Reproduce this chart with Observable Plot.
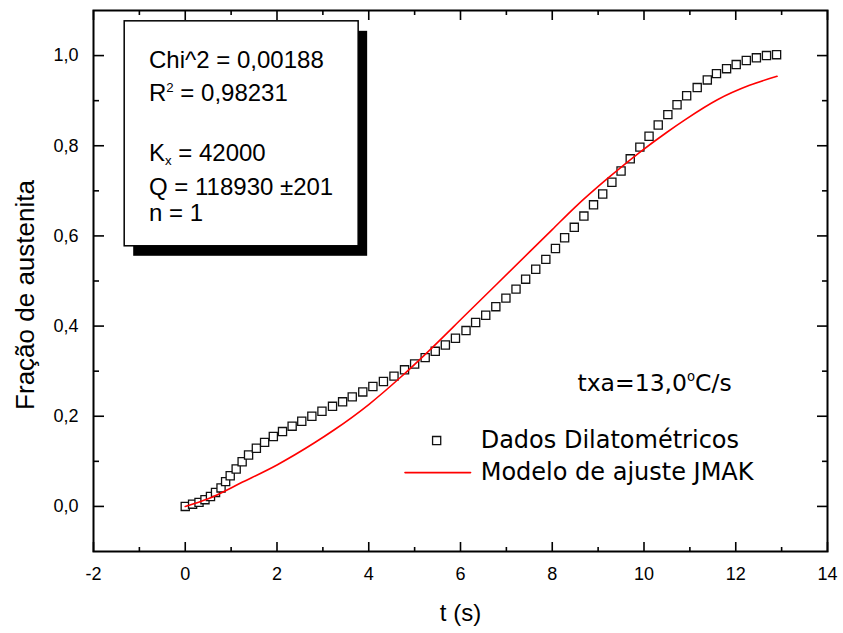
<!DOCTYPE html>
<html><head><meta charset="utf-8">
<script src="https://cdn.jsdelivr.net/npm/d3@7"></script>
<script src="https://cdn.jsdelivr.net/npm/@observablehq/plot@0.6"></script>
<style>
body{margin:0;background:#fff}
#chart{width:843px;height:633px}
</style>
</head><body><div id="chart"></div>
<script>
// Dilatometric data (t in s, austenite fraction)
const tData = [0.00,0.16,0.30,0.43,0.55,0.66,0.78,0.88,0.98,1.11,1.24,1.38,1.55,1.73,1.92,2.12,2.33,2.54,2.76,2.98,3.21,3.43,3.64,3.87,4.09,4.32,4.55,4.78,5.00,5.23,5.45,5.67,5.89,6.12,6.33,6.55,6.77,6.99,7.21,7.42,7.64,7.86,8.07,8.27,8.48,8.69,8.90,9.10,9.30,9.50,9.70,9.91,10.11,10.31,10.52,10.72,10.93,11.16,11.38,11.58,11.80,12.01,12.23,12.45,12.67,12.89];
const fracData = [0.000,0.005,0.009,0.015,0.022,0.031,0.041,0.055,0.068,0.083,0.099,0.114,0.129,0.142,0.155,0.166,0.178,0.189,0.200,0.211,0.222,0.232,0.243,0.254,0.266,0.277,0.289,0.303,0.316,0.330,0.344,0.358,0.373,0.390,0.408,0.424,0.443,0.462,0.482,0.504,0.526,0.548,0.572,0.596,0.619,0.644,0.669,0.693,0.719,0.744,0.771,0.797,0.821,0.846,0.869,0.891,0.911,0.929,0.946,0.960,0.971,0.980,0.989,0.995,1.000,1.002];
// JMAK fit curve
const tModel = [0,0.5,1.25,2.0,2.8,3.25,4.0,4.7,5.3,6.1,6.8,7.5,8.0,8.5,9.2,9.9,10.5,10.9,11.6,12.3,12.9];
const fracModel = [0,0.017,0.054,0.092,0.140,0.170,0.226,0.287,0.344,0.424,0.494,0.564,0.614,0.664,0.727,0.785,0.830,0.858,0.902,0.934,0.954];
// Axis ticks
const xTicks = [-2,0,2,4,6,8,10,12,14];
const xMinor = [-1,1,3,5,7,9,11,13];
const yTicks = [0,0.2,0.4,0.6,0.8,1.0];
const yMinor = [0.1,0.3,0.5,0.7,0.9];
// Texts
const xTitle = "t (s)";
const yTitle = "Fração de austenita";
const fitLines = ["Chi^2 = 0,00188", "R^{2} = 0,98231", "K_{x} = 42000", "Q = 118930 ±201", "n = 1"];
const rateLabel = "txa=13,0^{o}C/s";
const seriesNames = ["Dados Dilatométricos", "Modelo de ajuste JMAK"];

const pts = tData.map((t, i) => ({t, f: fracData[i]}));
const model = tModel.map((t, i) => ({t, f: fracModel[i]}));

const tk = {fill: "none", stroke: "black", strokeWidth: 1.6, label: null};
const fmtY = d => d.toFixed(1).replace(".", ",");
const fmtX = d => String(d);
const wide = "'DejaVu Sans', Verdana, sans-serif";

const fitY = [0.989, 0.916, 0.783, 0.707, 0.650];

const plot = Plot.plot({
  width: 843, height: 633,
  marginLeft: 93, marginRight: 16, marginTop: 10, marginBottom: 82,
  style: {fontFamily: "'Liberation Sans', Arial, sans-serif", fontSize: "18px", color: "black", background: "white", overflow: "visible"},
  x: {domain: [-2, 14]},
  y: {domain: [-0.1, 1.1]},
  marks: [
    // inward ticks on all four sides
    Plot.axisX(xTicks, {anchor: "top", frameAnchor: "bottom", tickSize: 10, ...tk}),
    Plot.axisX(xMinor, {anchor: "top", frameAnchor: "bottom", tickSize: 5, ...tk}),
    Plot.axisX(xTicks, {anchor: "bottom", frameAnchor: "top", tickSize: 10, ...tk}),
    Plot.axisX(xMinor, {anchor: "bottom", frameAnchor: "top", tickSize: 5, ...tk}),
    Plot.axisY(yTicks, {anchor: "right", frameAnchor: "left", tickSize: 10, ...tk}),
    Plot.axisY(yMinor, {anchor: "right", frameAnchor: "left", tickSize: 5, ...tk}),
    Plot.axisY(yTicks, {anchor: "left", frameAnchor: "right", tickSize: 10, ...tk}),
    Plot.axisY(yMinor, {anchor: "left", frameAnchor: "right", tickSize: 5, ...tk}),
    // tick labels
    Plot.axisX(xTicks, {anchor: "bottom", tickSize: 0, tickPadding: 16, stroke: "none", tickFormat: fmtX, fontSize: 18, label: null}),
    Plot.axisY(yTicks, {anchor: "left", tickSize: 0, tickPadding: 15, stroke: "none", tickFormat: fmtY, fontSize: 18, label: null}),
    // axis titles
    Plot.text([xTitle], {frameAnchor: "bottom", dy: 69, text: d => d, fontSize: 24}),
    Plot.text([yTitle], {frameAnchor: "left", textAnchor: "middle", dx: -68, dy: 14, rotate: -90, text: d => d, fontSize: 26}),
    // fit-results box with shadow
    Plot.rect([0], {x1: -1.32, x2: 3.78, y1: 0.577, y2: 1.076, fill: "black", dx: 9, dy: 10}),
    Plot.rect([0], {x1: -1.32, x2: 3.78, y1: 0.577, y2: 1.076, fill: "white", stroke: "black", strokeWidth: 1.5}),
    Plot.text(fitLines, {x: -0.79, y: (d, i) => fitY[i], text: d => d, textAnchor: "start", fontSize: 24}),
    // data
    Plot.dot(pts, {x: "t", y: "f", symbol: "square", r: 4.6, stroke: "#111", strokeWidth: 1.3, fill: "white"}),
    Plot.line(model, {x: "t", y: "f", stroke: "#ff0000", strokeWidth: 1.6, curve: "monotone-x"}),
    // rate annotation
    Plot.text([rateLabel], {x: 8.55, y: 0.273, text: d => d, textAnchor: "start", fontSize: 23.5, fontFamily: wide}),
    // legend
    Plot.dot([seriesNames[0]], {x: 5.48, y: 0.146, symbol: "square", r: 4.6, stroke: "#111", strokeWidth: 1.3, fill: "white"}),
    Plot.line([[4.79, 0.075], [6.22, 0.075]], {x: d => d[0], y: d => d[1], stroke: "#ff0000", strokeWidth: 1.6}),
    Plot.text(seriesNames, {x: 6.44, y: (d, i) => [0.146, 0.075][i], text: d => d, textAnchor: "start", fontSize: 24, fontFamily: wide}),
    Plot.frame({stroke: "black", strokeWidth: 2})
  ]
});

// rich text: ^{...} superscript, _{...} subscript
d3.select(plot).selectAll("text").each(function() {
  const s = this.textContent;
  if (!/[\^_]\{/.test(s)) return;
  const fs = parseFloat(getComputedStyle(this).fontSize) || parseFloat(this.getAttribute("font-size")) || 24;
  const parts = s.split(/([\^_]\{[^}]*\})/).filter(p => p.length);
  this.textContent = "";
  const el = d3.select(this);
  let cur = 0;
  for (const p of parts) {
    let shift = 0, size = null, txt = p;
    if (p.startsWith("^{")) { shift = -0.4 * fs; size = 0.55 * fs; txt = p.slice(2, -1); }
    else if (p.startsWith("_{")) { shift = 0.17 * fs; size = 0.55 * fs; txt = p.slice(2, -1); }
    const ts = el.append("tspan").text(txt);
    if (shift !== cur) ts.attr("dy", (shift - cur) + "px");
    if (size) ts.attr("font-size", size + "px");
    cur = shift;
  }
});

document.getElementById("chart").appendChild(plot);
</script>
</body></html>
